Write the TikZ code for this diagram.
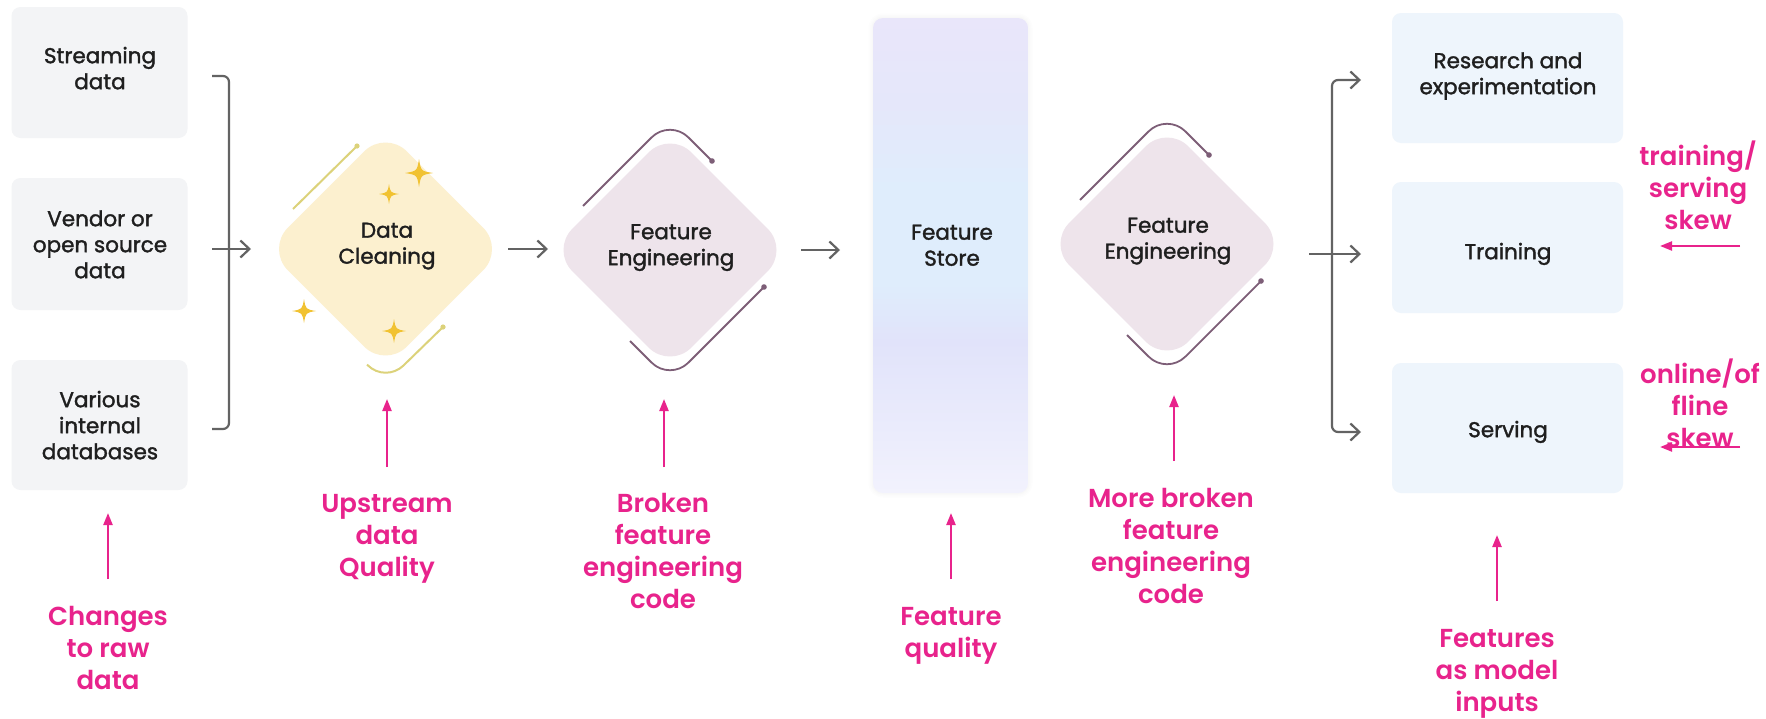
\documentclass[tikz,border=0pt]{standalone}
\usepackage{fontspec}
\setmainfont{Poppins}
\newfontfamily\boxfont{Poppins}[FakeBold=1.6]
\IfFontExistsTF{Poppins SemiBold}{\newfontfamily\notefont{Poppins SemiBold}}{\def\notefont{\bfseries}}
\usetikzlibrary{arrows.meta,shapes.geometric}

\definecolor{pinkc}{HTML}{E8238C}
\definecolor{flowgray}{HTML}{636363}
\definecolor{txtdark}{HTML}{1F1F1F}
\definecolor{srcfill}{HTML}{F3F4F6}
\definecolor{outfill}{HTML}{EEF5FC}
\definecolor{cleanfill}{HTML}{FCF0CF}
\definecolor{cleanline}{HTML}{DCD27A}
\definecolor{sparkfill}{HTML}{F1C232}
\definecolor{fefill}{HTML}{EEE4EB}
\definecolor{feline}{HTML}{7D5E77}
\definecolor{storeTop}{HTML}{E9E6FA}
\definecolor{storeUp}{HTML}{E5E7FA}
\definecolor{storeMid}{HTML}{DFEDFC}
\definecolor{storeLav}{HTML}{E1E3FA}
\definecolor{storeLow}{HTML}{EBECFC}
\definecolor{storeBot}{HTML}{F2F2FD}

% vertical colour run of the feature store column (bottom to top);
% the node spans 25bp..75bp of the shading
\pgfdeclareverticalshading{storeshade}{100bp}{%
  color(0bp)=(storeBot); color(25bp)=(storeBot); color(31bp)=(storeLow);
  color(41bp)=(storeLav); color(47bp)=(storeMid); color(57bp)=(storeMid);
  color(66bp)=(storeUp); color(75bp)=(storeTop); color(100bp)=(storeTop)}

% four-pointed sparkle: centre x, centre y, radius
\newcommand\sparkle[3]{%
  \fill[sparkfill] (#1,#2-#3)
    .. controls (#1+0.14*#3,#2-0.14*#3) .. (#1+#3,#2)
    .. controls (#1+0.14*#3,#2+0.14*#3) .. (#1,#2+#3)
    .. controls (#1-0.14*#3,#2+0.14*#3) .. (#1-#3,#2)
    .. controls (#1-0.14*#3,#2-0.14*#3) .. (#1,#2-#3) -- cycle;}

% outline strokes around a feature-engineering diamond: centre x, centre y
\newcommand\fedecor[2]{%
  \draw[fedeco] (#1-87,#2-44) -- (#1,#2-131) -- (#1+42,#2-89);
  \fill[feline] (#1+42,#2-89) circle[radius=2.8pt];
  \draw[fedeco] (#1-40,#2+91) -- (#1,#2+131) -- (#1+94,#2+37);
  \fill[feline] (#1+94,#2+37) circle[radius=2.8pt];}

\begin{document}
\begin{tikzpicture}[x=1pt,y=-1pt,
  srcbox/.style={rectangle, rounded corners=9pt, fill=srcfill, minimum width=176pt, inner sep=0pt},
  outbox/.style={rectangle, rounded corners=9pt, fill=outfill, minimum width=231pt, inner sep=0pt},
  diam/.style={diamond, rounded corners=30pt, minimum width=238pt, minimum height=238pt, inner sep=0pt},
  boxtxt/.style={font=\boxfont\fontsize{21.5}{26}\selectfont, text=txtdark, align=center, inner sep=0pt},
  notetxt/.style={font=\notefont\fontsize{26}{32}\selectfont, text=pinkc, align=center, inner sep=0pt},
  flow/.style={draw=flowgray, line width=2.2pt, -{Straight Barb[length=9pt,width=17pt]}},
  bracket/.style={draw=flowgray, line width=2.2pt, rounded corners=6pt},
  pk/.style={draw=pinkc, line width=2.2pt, -{Triangle[length=12pt,width=9pt]}},
  fedeco/.style={draw=feline, line width=1.8pt, rounded corners=26pt},
  cldeco/.style={draw=cleanline, line width=2pt, rounded corners=25pt}]

\useasboundingbox (0,0) rectangle (1766,718);
\fill[white] (0,0) rectangle (1766,718);

% ---------- data sources ----------
\node[srcbox, minimum height=131pt] (src1) at (99.5,72.5) {};
\node[srcbox, minimum height=132pt] (src2) at (99.5,244) {};
\node[srcbox, minimum height=130pt] (src3) at (99.5,425) {};
\node[boxtxt] (src1t) at (100,71) {\strut Streaming\\\strut data};
\node[boxtxt] (src2t) at (100,247) {\strut Vendor or\\\strut open source\\\strut data};
\node[boxtxt] (src3t) at (100,428) {\strut Various\\\strut internal\\\strut databases};

% bracket joining the sources
\coordinate (bt) at (212,76);
\coordinate (bb) at (212,429);
\draw[bracket] (bt) -- (229,76) -- (229,429) -- (bb);
\coordinate (inA) at (212,249);
\coordinate (inB) at (251,249);
\draw[flow] (inA) -- (inB);

% ---------- data cleaning ----------
\draw[cldeco] (293,209) -- (357,146);
\fill[cleanline] (357,146) circle[radius=2.6pt];
\node[diam, fill=cleanfill] (dc) at (385.5,249) {};
\draw[cldeco] (443,327) -- (385.5,383) -- (367,364.5);
\fill[cleanline] (443,327) circle[radius=2.6pt];
\node[boxtxt] (dct) at (387,245.5) {\strut Data\\\strut Cleaning};
\sparkle{419}{173}{14}
\sparkle{389}{194}{10}
\sparkle{304}{311}{12}
\sparkle{394}{331}{12}

\coordinate (dcA) at (508,249);
\coordinate (dcB) at (548,249);
\draw[flow] (dcA) -- (dcB);

% ---------- feature engineering (1) ----------
\fedecor{670}{250}
\node[diam, fill=fefill] (fe1) at (670,250) {};
\node[boxtxt] (fe1t) at (671,247) {\strut Feature\\\strut Engineering};

\coordinate (feA) at (801,250);
\coordinate (feB) at (840,250);
\draw[flow] (feA) -- (feB);

% ---------- feature store ----------
\foreach \g/\o in {9/0.025,6/0.03,3/0.035}{
  \draw[draw=black!25, line width=\g pt, opacity=\o, rounded corners=10pt] (873,18) rectangle (1028,493);
}
\node[rectangle, rounded corners=10pt, minimum width=155pt, minimum height=475pt, inner sep=0pt,
      shading=storeshade] (fs) at (950.5,255.5) {};
\node[boxtxt] (fst) at (952,247.5) {\strut Feature\\\strut Store};

% ---------- feature engineering (2) ----------
\fedecor{1167}{244}
\node[diam, fill=fefill] (fe2) at (1167,244) {};
\node[boxtxt] (fe2t) at (1168,240.5) {\strut Feature\\\strut Engineering};

% fan-out to consumers
\coordinate (oTop) at (1361,80);
\coordinate (oBot) at (1361,432);
\draw[bracket, {Straight Barb[length=9pt,width=17pt]}-{Straight Barb[length=9pt,width=17pt]}]
  (oTop) -- (1332,80) -- (1332,432) -- (oBot);
\coordinate (oMidA) at (1309,254);
\coordinate (oMidB) at (1361,254);
\draw[flow] (oMidA) -- (oMidB);

% ---------- consumers ----------
\node[outbox, minimum height=130pt] (res) at (1507.5,78) {};
\node[outbox, minimum height=131pt] (trn) at (1507.5,247.5) {};
\node[outbox, minimum height=130pt] (srv) at (1507.5,428) {};
\node[boxtxt] (rest) at (1508,76) {\strut Research and\\\strut experimentation};
\node[boxtxt] (trnt) at (1508,254) {\strut Training};
\node[boxtxt] (srvt) at (1508,432) {\strut Serving};

% ---------- failure points ----------
\node[notetxt] (n1) at (108,651.5) {\strut Changes\\\strut to raw\\\strut data};
\node[notetxt] (n2) at (387,538.5) {\strut Upstream\\\strut data\\\strut Quality};
\node[notetxt] (n3) at (663,554) {\strut Broken\\\strut feature\\\strut engineering\\\strut code};
\node[notetxt] (n4) at (951,635.5) {\strut Feature\\\strut quality};
\node[notetxt] (n5) at (1171,549.5) {\strut More broken\\\strut feature\\\strut engineering\\\strut code};
\node[notetxt] (n6) at (1497,673.5) {\strut Features\\\strut as model\\\strut inputs};
\node[notetxt] (n7) at (1698,189.5) {\strut training/\\\strut serving\\\strut skew};
\node[notetxt] (n8) at (1700,407.5) {\strut online/of\\\strut fline\\\strut skew};

\coordinate (p1a) at (108,579);  \coordinate (p1b) at (108,513);
\coordinate (p2a) at (387,467);  \coordinate (p2b) at (387,399);
\coordinate (p3a) at (664,467);  \coordinate (p3b) at (664,399);
\coordinate (p4a) at (951,579);  \coordinate (p4b) at (951,513);
\coordinate (p5a) at (1174,461); \coordinate (p5b) at (1174,395);
\coordinate (p6a) at (1497,601); \coordinate (p6b) at (1497,535);
\coordinate (p7a) at (1740,246); \coordinate (p7b) at (1660,246);
\coordinate (p8a) at (1740,447); \coordinate (p8b) at (1660,447);
\foreach \i in {1,...,8}{\draw[pk] (p\i a) -- (p\i b);}

\end{tikzpicture}
\end{document}
